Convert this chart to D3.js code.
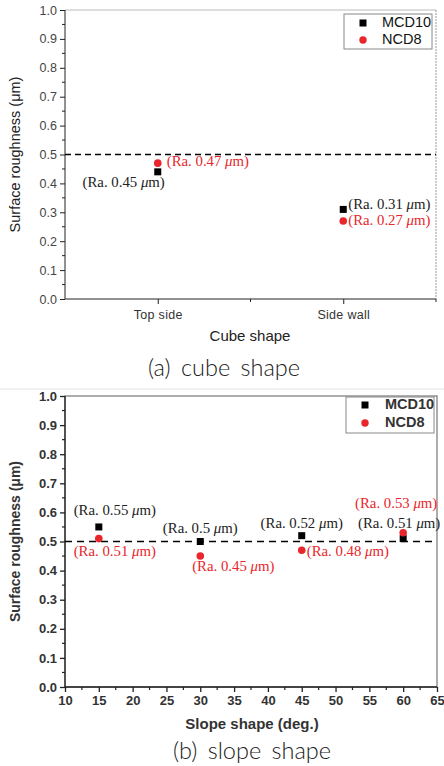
<!DOCTYPE html>
<html><head><meta charset="utf-8">
<script src="https://cdn.jsdelivr.net/npm/d3@7"></script>
<style>body{margin:0;background:#fff}svg{display:block}</style>
</head><body>
<svg id="c" width="444" height="766"></svg>
<script>
// ---- data: panel (a) cube shape
const cubeCategories = ["Top side", "Side wall"];
const cubeMCD10 = [0.44, 0.31];
const cubeNCD8 = [0.47, 0.27];
const cubeMCD10Labels = ["(Ra. 0.45 μm)", "(Ra. 0.31 μm)"];
const cubeNCD8Labels = ["(Ra. 0.47 μm)", "(Ra. 0.27 μm)"];
// ---- data: panel (b) slope shape
const slopeAngles = [15, 30, 45, 60];
const slopeMCD10 = [0.55, 0.50, 0.52, 0.51];
const slopeNCD8 = [0.51, 0.45, 0.47, 0.53];
const slopeMCD10Labels = ["(Ra. 0.55 μm)", "(Ra. 0.5 μm)", "(Ra. 0.52 μm)", "(Ra. 0.51 μm)"];
const slopeNCD8Labels = ["(Ra. 0.51 μm)", "(Ra. 0.45 μm)", "(Ra. 0.48 μm)", "(Ra. 0.53 μm)"];
const yTicks = [0, 0.1, 0.2, 0.3, 0.4, 0.5, 0.6, 0.7, 0.8, 0.9, 1.0];
const slopeTicks = [10, 15, 20, 25, 30, 35, 40, 45, 50, 55, 60, 65];
const seriesNames = ["MCD10", "NCD8"];
const refLine = 0.5;

const svg = d3.select("#c");
const RED = "#e8262b";
const serif = "'Liberation Serif','Times New Roman',serif";
const sans = "'Liberation Sans',Arial,sans-serif";
const titleFont = "Lato,'Open Sans',sans-serif";

function raLabel(g, x, y, text, color, anchor) {
  const t = g.append("text").attr("x", x).attr("y", y).attr("fill", color)
    .attr("font-family", serif).attr("font-size", 14.8).attr("text-anchor", anchor)
    .attr("dominant-baseline", "middle");
  const m = text.match(/^(.*?)μ(.*)$/);
  t.append("tspan").text(m[1]);
  t.append("tspan").attr("font-style", "italic").text("μ");
  t.append("tspan").text(m[2]);
}

function legend(g, x0, y0, w, h, mx, tx, r1, r2, bold) {
  g.append("rect").attr("x", x0).attr("y", y0).attr("width", w).attr("height", h)
    .attr("fill", "#fff").attr("stroke", "#888").attr("stroke-width", 1);
  g.append("rect").attr("x", mx - 3.5).attr("y", r1 - 3.5).attr("width", 7).attr("height", 7).attr("fill", "#000");
  g.append("circle").attr("cx", mx).attr("cy", r2).attr("r", 3.7).attr("fill", RED);
  [r1, r2].forEach((ry, i) => g.append("text").attr("x", tx).attr("y", ry).attr("dominant-baseline", "middle")
    .attr("font-family", sans).attr("font-size", 14.5).attr("font-weight", bold ? "bold" : "normal")
    .attr("fill", bold ? "#333" : "#111").text(seriesNames[i]));
}

// ================= Panel (a) =================
{
  const g = svg.append("g");
  const L = 65, R = 436, T = 10, B = 299;
  const x = d3.scaleLinear().domain([0.5, 2.5]).range([L, R]);
  const y = d3.scaleLinear().domain([0, 1]).range([B, T]);
  g.append("line").attr("x1", L).attr("x2", R).attr("y1", T).attr("y2", T).attr("stroke", "#bbb");
  g.append("line").attr("x1", R).attr("x2", R).attr("y1", T).attr("y2", B).attr("stroke", "#999").attr("stroke-dasharray", "2,1");
  const ya = d3.axisLeft(y).tickValues(yTicks).tickFormat(d3.format(".1f")).tickSize(5).tickPadding(3);
  const yag = g.append("g").attr("transform", `translate(${L},0)`).call(ya);
  yag.selectAll("text").attr("font-family", sans).attr("font-size", 12.5).attr("fill", "#444");
  yag.selectAll("path,line").attr("stroke", "#222");
  yag.select(".domain").attr("d", `M0,${T}V${B}`);
  const yMinor = d3.range(0.05, 1, 0.1);
  g.selectAll(".ym").data(yMinor).join("line").attr("x1", L - 3).attr("x2", L)
    .attr("y1", d => y(d)).attr("y2", d => y(d)).attr("stroke", "#222");
  const xa = d3.axisBottom(x).tickValues([1, 2]).tickFormat((d) => cubeCategories[d - 1]).tickSize(5).tickPadding(6);
  const xag = g.append("g").attr("transform", `translate(0,${B})`).call(xa);
  xag.selectAll("text").attr("font-family", sans).attr("font-size", 12.5).attr("fill", "#333").attr("letter-spacing", 0.3);
  xag.selectAll("path,line").attr("stroke", "#222");
  xag.select(".domain").attr("d", `M${L},0H${R}`);
  g.selectAll(".xm").data([1.5, 2.5]).join("line").attr("x1", d => x(d)).attr("x2", d => x(d))
    .attr("y1", B).attr("y2", B + 3).attr("stroke", "#222");
  g.append("line").attr("x1", L).attr("x2", R).attr("y1", y(refLine)).attr("y2", y(refLine))
    .attr("stroke", "#000").attr("stroke-width", 1.3).attr("stroke-dasharray", "6,4");
  g.selectAll(".sq").data(cubeMCD10).join("rect").attr("x", (d, i) => x(i + 1) - 3.5).attr("y", d => y(d) - 3.5)
    .attr("width", 7).attr("height", 7).attr("fill", "#000");
  g.selectAll(".ci").data(cubeNCD8).join("circle").attr("cx", (d, i) => x(i + 1)).attr("cy", d => y(d))
    .attr("r", 3.8).attr("fill", RED);
  raLabel(g, x(1) + 7, y(cubeMCD10[0]) + 12, cubeMCD10Labels[0], "#222", "end");
  raLabel(g, x(1) + 9, y(cubeNCD8[0]), cubeNCD8Labels[0], RED, "start");
  raLabel(g, x(2) + 5, y(cubeMCD10[1]) - 3, cubeMCD10Labels[1], "#222", "start");
  raLabel(g, x(2) + 5, y(cubeNCD8[1]) + 1, cubeNCD8Labels[1], RED, "start");
  g.append("text").attr("transform", `translate(16,${(T + B) / 2}) rotate(-90)`).attr("text-anchor", "middle")
    .attr("dominant-baseline", "middle").attr("font-family", sans).attr("font-size", 14.5).attr("fill", "#222")
    .text("Surface roughness (μm)");
  g.append("text").attr("x", 250).attr("y", 337).attr("text-anchor", "middle").attr("dominant-baseline", "middle")
    .attr("font-family", sans).attr("font-size", 15).attr("fill", "#222").text("Cube shape");
  legend(g, 344, 14, 88, 35, 363, 382, 23, 40, false);
  g.append("text").attr("x", 224).attr("y", 370).attr("text-anchor", "middle").attr("dominant-baseline", "middle")
    .attr("font-family", titleFont).attr("font-weight", 300).attr("font-size", 23.5).attr("fill", "#222")
    .attr("word-spacing", 4).text("(a) cube shape");
  svg.append("line").attr("x1", 0).attr("x2", 444).attr("y1", 389).attr("y2", 389).attr("stroke", "#e4e4e4");
}

// ================= Panel (b) =================
{
  const g = svg.append("g");
  const L = 65, R = 437, T = 396, B = 687;
  const x = d3.scaleLinear().domain([10, 65]).range([L, R]);
  const y = d3.scaleLinear().domain([0, 1]).range([B, T]);
  g.append("rect").attr("x", L).attr("y", T).attr("width", R - L).attr("height", B - T)
    .attr("fill", "none").attr("stroke", "#777").attr("stroke-width", 1.2);
  const ya = d3.axisLeft(y).tickValues(yTicks).tickFormat(d3.format(".1f")).tickSize(5).tickPadding(3);
  const yag = g.append("g").attr("transform", `translate(${L},0)`).call(ya);
  yag.selectAll("text").attr("font-family", sans).attr("font-size", 13).attr("font-weight", "bold").attr("fill", "#333");
  yag.selectAll("path,line").attr("stroke", "#222").attr("stroke-width", 1.3);
  yag.select(".domain").attr("d", `M0,${T}V${B}`);
  g.selectAll(".ym").data(d3.range(0.05, 1, 0.1)).join("line").attr("x1", L - 3).attr("x2", L)
    .attr("y1", d => y(d)).attr("y2", d => y(d)).attr("stroke", "#222").attr("stroke-width", 1.2);
  const xa = d3.axisBottom(x).tickValues(slopeTicks).tickFormat(d3.format("d")).tickSize(5).tickPadding(4);
  const xag = g.append("g").attr("transform", `translate(0,${B})`).call(xa);
  xag.selectAll("text").attr("font-family", sans).attr("font-size", 13).attr("font-weight", "bold").attr("fill", "#333");
  xag.selectAll("path,line").attr("stroke", "#222").attr("stroke-width", 1.3);
  xag.select(".domain").attr("d", `M${L},0H${R}`);
  g.selectAll(".xm").data(d3.range(12.5, 65, 5)).join("line").attr("x1", d => x(d)).attr("x2", d => x(d))
    .attr("y1", B).attr("y2", B + 3).attr("stroke", "#222").attr("stroke-width", 1.2);
  g.append("line").attr("x1", L).attr("x2", R).attr("y1", y(refLine)).attr("y2", y(refLine))
    .attr("stroke", "#000").attr("stroke-width", 1.5).attr("stroke-dasharray", "7,5");
  g.selectAll(".sq").data(slopeMCD10).join("rect").attr("x", (d, i) => x(slopeAngles[i]) - 3.5).attr("y", d => y(d) - 3.5)
    .attr("width", 7).attr("height", 7).attr("fill", "#000");
  g.selectAll(".ci").data(slopeNCD8).join("circle").attr("cx", (d, i) => x(slopeAngles[i])).attr("cy", d => y(d))
    .attr("r", 3.8).attr("fill", RED);
  const mOff = [[16, -15, "middle"], [0, -12, "middle"], [0, -11, "middle"], [-4, -14, "middle"]];
  const nOff = [[16, 14, "middle"], [33, 12, "middle"], [5, 3, "start"], [-7, -28, "middle"]];
  slopeMCD10.forEach((v, i) => raLabel(g, x(slopeAngles[i]) + mOff[i][0], y(v) + mOff[i][1], slopeMCD10Labels[i], "#222", mOff[i][2]));
  slopeNCD8.forEach((v, i) => raLabel(g, x(slopeAngles[i]) + nOff[i][0], y(v) + nOff[i][1], slopeNCD8Labels[i], RED, nOff[i][2]));
  g.append("text").attr("transform", `translate(16,${(T + B) / 2}) rotate(-90)`).attr("text-anchor", "middle")
    .attr("dominant-baseline", "middle").attr("font-family", sans).attr("font-size", 14).attr("font-weight", "bold").attr("fill", "#333")
    .text("Surface roughness (μm)");
  g.append("text").attr("x", 252).attr("y", 725).attr("text-anchor", "middle").attr("dominant-baseline", "middle")
    .attr("font-family", sans).attr("font-size", 15).attr("font-weight", "bold").attr("fill", "#333").text("Slope shape (deg.)");
  legend(g, 346, 397, 88, 36, 365, 385, 405, 423, true);
  g.append("text").attr("x", 252).attr("y", 753).attr("text-anchor", "middle").attr("dominant-baseline", "middle")
    .attr("font-family", titleFont).attr("font-weight", 300).attr("font-size", 23.5).attr("fill", "#222")
    .attr("word-spacing", 4).text("(b) slope shape");
}
</script>
</body></html>
